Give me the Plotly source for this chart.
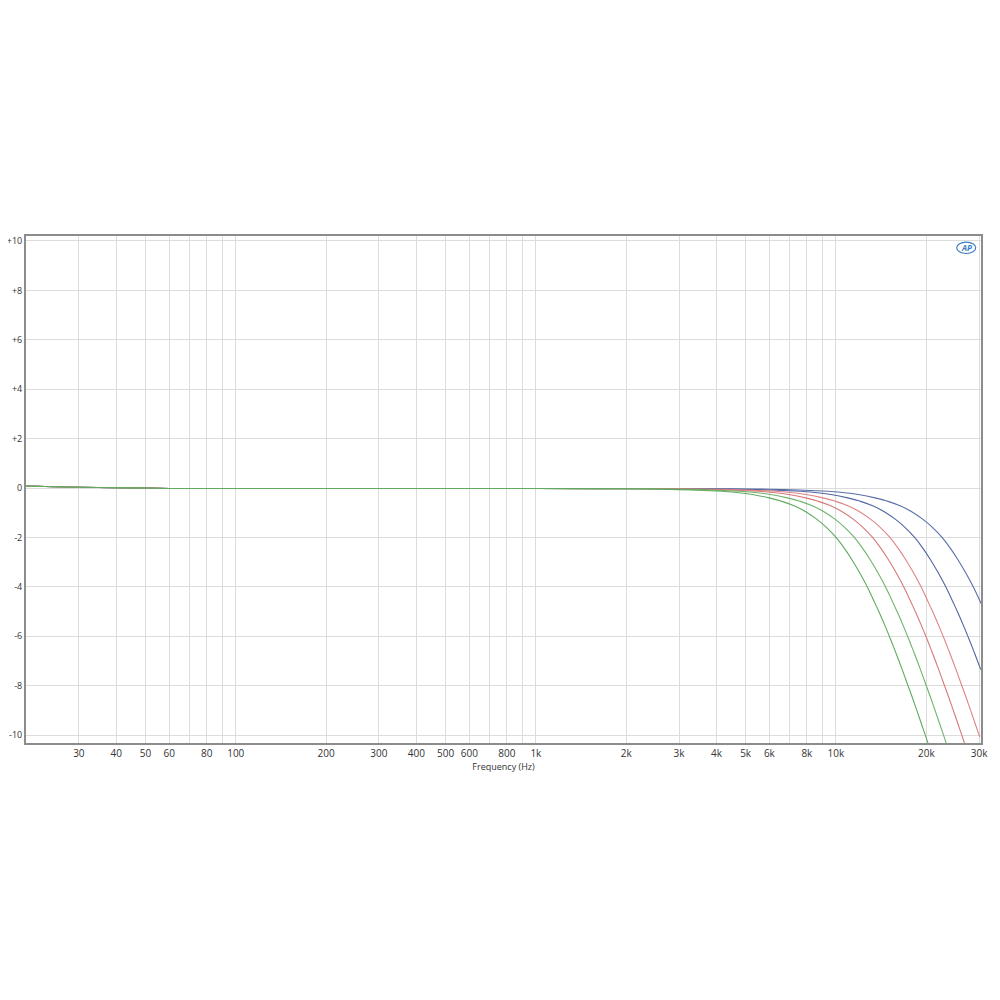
import plotly.graph_objects as go

# ---- data ----
LOW_FREQ = [20, 25, 30, 40, 50, 60, 100, 200, 500, 1000]
LOW_DB = [0.08, 0.05, 0.03, 0.01, 0.0, -0.02, -0.02, -0.02, -0.02, -0.02]

ROLL_DB = [-0.03, -0.05, -0.08, -0.12, -0.18, -0.27, -0.4, -0.55, -0.74, -0.98,
           -1.27, -1.6, -1.98, -2.42, -2.9, -3.41, -3.94, -4.5, -5.06, -5.63,
           -6.2, -6.78, -7.35, -7.92, -8.47, -9.02, -9.56, -10.08, -10.6, -11.1]

BLUE_OUTER_FREQ = [4500, 6000, 7500, 9000, 10500, 12000, 13500, 15000, 16500, 18000,
                   19500, 21000, 22500, 24000, 25500, 27000, 28500, 30000, 31500]
BLUE_INNER_FREQ = [3645, 4860, 6075, 7290, 8505, 9720, 10935, 12150, 13365, 14580,
                   15795, 17010, 18225, 19440, 20655, 21870, 23085, 24300, 25515, 26730,
                   27945, 29160, 30375]
RED_OUTER_FREQ = [3015, 4020, 5025, 6030, 7035, 8040, 9045, 10050, 11055, 12060,
                  13065, 14070, 15075, 16080, 17085, 18090, 19095, 20100, 21105, 22110,
                  23115, 24120, 25125, 26130, 27135, 28140, 29145, 30150]
RED_INNER_FREQ = [2640, 3520, 4400, 5280, 6160, 7040, 7920, 8800, 9680, 10560,
                  11440, 12320, 13200, 14080, 14960, 15840, 16720, 17600, 18480, 19360,
                  20240, 21120, 22000, 22880, 23760, 24640, 25520, 26400, 27280, 28160]
GREEN_OUTER_FREQ = [2295, 3060, 3825, 4590, 5355, 6120, 6885, 7650, 8415, 9180,
                    9945, 10710, 11475, 12240, 13005, 13770, 14535, 15300, 16065, 16830,
                    17595, 18360, 19125, 19890, 20655, 21420, 22185, 22950, 23715, 24480]
GREEN_INNER_FREQ = [1995, 2660, 3325, 3990, 4655, 5320, 5985, 6650, 7315, 7980,
                    8645, 9310, 9975, 10640, 11305, 11970, 12635, 13300, 13965, 14630,
                    15295, 15960, 16625, 17290, 17955, 18620, 19285, 19950, 20615, 21280]

SERIES = [
    ("Blue A", BLUE_OUTER_FREQ, "#5a6fa8"),
    ("Blue B", BLUE_INNER_FREQ, "#5166a0"),
    ("Red A", RED_OUTER_FREQ, "#de8486"),
    ("Red B", RED_INNER_FREQ, "#d87878"),
    ("Green A", GREEN_OUTER_FREQ, "#6cb46c"),
    ("Green B", GREEN_INNER_FREQ, "#5faa5f"),
]

X_TICKS = [20, 30, 40, 50, 60, 70, 80, 90, 100, 200, 300, 400, 500, 600, 700, 800, 900,
           1000, 2000, 3000, 4000, 5000, 6000, 7000, 8000, 9000, 10000, 20000, 30000]
X_LABELS = ["", "30", "40", "50", "60", "", "80", "", "100", "200", "300", "400", "500",
            "600", "", "800", "", "1k", "2k", "3k", "4k", "5k", "6k", "", "8k", "", "10k",
            "20k", "30k"]
Y_TICKS = [-10, -8, -6, -4, -2, 0, 2, 4, 6, 8, 10]
Y_LABELS = ["-10", "-8", "-6", "-4", "-2", "0", "+2", "+4", "+6", "+8", "+10"]

fig = go.Figure()
for name, freq, color in SERIES:
    fig.add_trace(go.Scatter(
        x=LOW_FREQ + freq,
        y=LOW_DB + ROLL_DB[:len(freq)],
        mode="lines",
        name=name,
        line=dict(color=color, width=1.1, shape="spline", smoothing=0.6),
        showlegend=False,
    ))

fig.update_layout(
    width=1000, height=1000,
    paper_bgcolor="white", plot_bgcolor="white",
    margin=dict(l=18, r=27, t=228, b=265, autoexpand=False),
    font=dict(family="Open Sans, Noto Sans, sans-serif", size=10, color="#333333"),
    showlegend=False,
)
fig.update_xaxes(
    type="log", range=[1.30103, 4.4833],
    tickmode="array", tickvals=X_TICKS, ticktext=X_LABELS,
    showgrid=True, gridcolor="#dcdcdc", gridwidth=1,
    showline=True, linecolor="#8c8c8c", linewidth=2, mirror=True,
    ticks="", tickfont=dict(size=10, color="#333333"),
    title=dict(text="Frequency (Hz)", font=dict(size=9, color="#333333"), standoff=0),
    zeroline=False, automargin=False,
)
fig.update_yaxes(
    range=[-10.32, 10.2],
    tickmode="array", tickvals=Y_TICKS, ticktext=Y_LABELS,
    showgrid=True, gridcolor="#dcdcdc", gridwidth=1,
    showline=True, linecolor="#8c8c8c", linewidth=2, mirror=True,
    ticks="", tickfont=dict(size=9, color="#333333"),
    zeroline=False, automargin=False,
)

# AP logo
fig.add_shape(type="circle", xref="paper", yref="paper",
              x0=0.9745, x1=0.9945, y0=0.9655, y1=0.988,
              line=dict(color="#3b7dc4", width=1.2))
fig.add_annotation(xref="paper", yref="paper", x=0.9845, y=0.9768,
                   xanchor="center", yanchor="middle",
                   text="<b><i>AP</i></b>", showarrow=False,
                   font=dict(family="Open Sans, sans-serif", size=8, color="#3b7dc4"))

fig.write_html("out.html")
